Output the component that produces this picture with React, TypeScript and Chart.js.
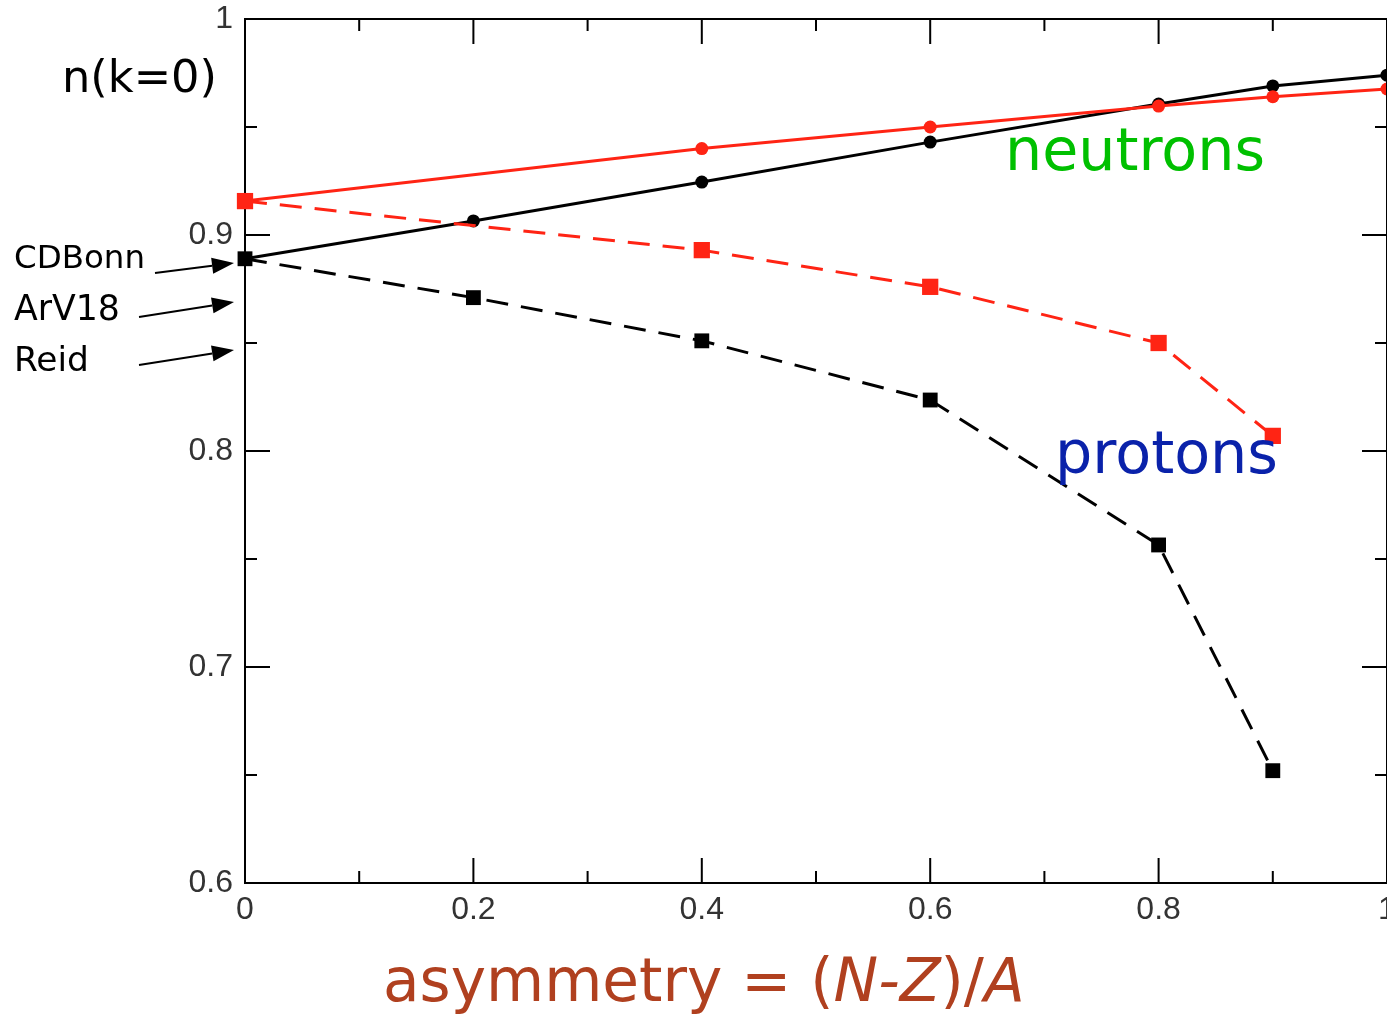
import React, { useEffect, useRef } from "react";
import { Chart, registerables } from "chart.js";

Chart.register(...registerables);

// Asymmetry values (x) and n(k=0) values (y)
const neutronBlackX = [0, 0.2, 0.4, 0.6, 0.8, 0.9, 1.0];
const neutronBlackY = [0.889, 0.9065, 0.9245, 0.943, 0.9606, 0.969, 0.974];
const neutronRedX = [0, 0.4, 0.6, 0.8, 0.9, 1.0];
const neutronRedY = [0.9157, 0.94, 0.95, 0.9597, 0.964, 0.9676];
const protonRedX = [0, 0.4, 0.6, 0.8, 0.9];
const protonRedY = [0.9157, 0.893, 0.876, 0.85, 0.807];
const protonBlackX = [0, 0.2, 0.4, 0.6, 0.8, 0.9];
const protonBlackY = [0.889, 0.871, 0.851, 0.8236, 0.7565, 0.652];

const xMajorTicks = [0, 0.2, 0.4, 0.6, 0.8, 1.0];
const xMinorTicks = [0.1, 0.3, 0.5, 0.7, 0.9];
const yMajorTicks = [0.6, 0.7, 0.8, 0.9, 1.0];
const yMinorTicks = [0.65, 0.75, 0.85, 0.95];

const modelLabels = ["CDBonn", "ArV18", "Reid"];

const RED = "#ff2414";
const BLACK = "#000000";
const FONT = "'DejaVu Sans', sans-serif";
const TICK_FONT = "'Liberation Sans', Arial, sans-serif";

const pts = (xs: number[], ys: number[]) => xs.map((x, i) => ({ x, y: ys[i] }));

function fitText(ctx: CanvasRenderingContext2D, text: string, width: number, style = "") {
  ctx.font = `${style} 100px ${FONT}`;
  const w = ctx.measureText(text).width;
  return (100 * width) / w;
}

function arrow(ctx: CanvasRenderingContext2D, x1: number, y1: number, x2: number, y2: number) {
  const ang = Math.atan2(y2 - y1, x2 - x1);
  const hl = 22, hw = 8;
  const bx = x2 - hl * Math.cos(ang), by = y2 - hl * Math.sin(ang);
  ctx.strokeStyle = "#000";
  ctx.lineWidth = 2;
  ctx.beginPath();
  ctx.moveTo(x1, y1);
  ctx.lineTo(bx, by);
  ctx.stroke();
  ctx.fillStyle = "#000";
  ctx.beginPath();
  ctx.moveTo(x2, y2);
  ctx.lineTo(bx + hw * Math.sin(ang), by - hw * Math.cos(ang));
  ctx.lineTo(bx - hw * Math.sin(ang), by + hw * Math.cos(ang));
  ctx.closePath();
  ctx.fill();
}

const decorPlugin = {
  id: "decor",
  afterDatasetsDraw(chart: any) {
    const ctx: CanvasRenderingContext2D = chart.ctx;
    const { left, right, top, bottom } = chart.chartArea;
    const xs = chart.scales.x, ys = chart.scales.y;
    ctx.save();
    ctx.strokeStyle = "#000";
    ctx.lineWidth = 2;
    ctx.beginPath();
    ctx.moveTo(left, top);
    ctx.lineTo(right, top);
    ctx.moveTo(right, top);
    ctx.lineTo(right, bottom);
    ctx.stroke();
    const tickX = (v: number, len: number) => {
      const px = xs.getPixelForValue(v);
      ctx.beginPath();
      ctx.moveTo(px, bottom);
      ctx.lineTo(px, bottom - len);
      ctx.moveTo(px, top);
      ctx.lineTo(px, top + len);
      ctx.stroke();
    };
    const tickY = (v: number, len: number) => {
      const py = ys.getPixelForValue(v);
      ctx.beginPath();
      ctx.moveTo(left, py);
      ctx.lineTo(left + len, py);
      ctx.moveTo(right, py);
      ctx.lineTo(right - len, py);
      ctx.stroke();
    };
    xMajorTicks.forEach((v) => tickX(v, 25));
    xMinorTicks.forEach((v) => tickX(v, 12));
    yMajorTicks.forEach((v) => tickY(v, 25));
    yMinorTicks.forEach((v) => tickY(v, 12));

    ctx.textBaseline = "middle";
    ctx.textAlign = "left";
    let s = fitText(ctx, "n(k=0)", 155);
    ctx.font = `${s}px ${FONT}`;
    ctx.fillStyle = "#000";
    ctx.fillText("n(k=0)", 62, 80);

    const labelY = [260, 311, 362];
    const labelW = [131, 106, 75];
    modelLabels.forEach((t, i) => {
      const sz = fitText(ctx, t, labelW[i]);
      ctx.font = `${sz}px ${FONT}`;
      ctx.fillStyle = "#000";
      ctx.fillText(t, 14, labelY[i]);
    });
    arrow(ctx, 155, 273, 234, 263);
    arrow(ctx, 139, 317, 234, 302);
    arrow(ctx, 139, 365, 234, 350);

    s = fitText(ctx, "neutrons", 260);
    ctx.font = `${s}px ${FONT}`;
    ctx.fillStyle = "#00c000";
    ctx.fillText("neutrons", 1005, 155);

    s = fitText(ctx, "protons", 223);
    ctx.font = `${s}px ${FONT}`;
    ctx.fillStyle = "#0a22aa";
    ctx.fillText("protons", 1055, 458);

    const parts: [string, string][] = [
      ["asymmetry = (", ""],
      ["N-Z", "italic"],
      [")/", ""],
      ["A", "italic"],
    ];
    let total = 0;
    parts.forEach(([t, st]) => {
      ctx.font = `${st} 100px ${FONT}`;
      total += ctx.measureText(t).width;
    });
    const sz = (100 * 642) / total;
    let x = 383;
    ctx.fillStyle = "#b0401f";
    parts.forEach(([t, st]) => {
      ctx.font = `${st} ${sz}px ${FONT}`;
      ctx.fillText(t, x, 985);
      x += ctx.measureText(t).width;
    });
    ctx.restore();
  },
};

export default function App() {
  const ref = useRef<HTMLCanvasElement | null>(null);
  useEffect(() => {
    if (!ref.current) return;
    const chart = new Chart(ref.current, {
      type: "line",
      data: {
        datasets: [
          {
            label: "protons (red)",
            data: pts(protonRedX, protonRedY),
            borderColor: RED,
            backgroundColor: RED,
            borderWidth: 3,
            borderDash: [22, 13],
            pointStyle: "rect",
            pointRadius: 11.5,
            pointBorderWidth: 0,
            clip: false,
          },
          {
            label: "neutrons (red)",
            data: pts(neutronRedX, neutronRedY),
            borderColor: RED,
            backgroundColor: RED,
            borderWidth: 3,
            pointStyle: "circle",
            pointRadius: 6.5,
            pointBorderWidth: 0,
            clip: false,
          },
          {
            label: "protons (black)",
            data: pts(protonBlackX, protonBlackY),
            borderColor: BLACK,
            backgroundColor: BLACK,
            borderWidth: 3,
            borderDash: [22, 13],
            pointStyle: "rect",
            pointRadius: 10.5,
            pointBorderWidth: 0,
            clip: false,
          },
          {
            label: "neutrons (black)",
            data: pts(neutronBlackX, neutronBlackY),
            borderColor: BLACK,
            backgroundColor: BLACK,
            borderWidth: 3,
            pointStyle: "circle",
            pointRadius: 6.5,
            pointBorderWidth: 0,
            clip: false,
          },
        ],
      },
      options: {
        responsive: false,
        animation: false,
        devicePixelRatio: 1,
        layout: { autoPadding: false, padding: { top: 19, left: 0, right: 0, bottom: 89 } },
        plugins: { legend: { display: false }, tooltip: { enabled: false } },
        elements: { line: { tension: 0 } },
        scales: {
          x: {
            type: "linear",
            min: 0,
            max: 1,
            grid: { display: false, drawTicks: false },
            border: { display: true, color: "#000", width: 2 },
            afterFit: (s: any) => {
              s.height = 50;
              s.paddingLeft = 0;
              s.paddingRight = 0;
            },
            ticks: {
              stepSize: 0.2,
              padding: 8,
              color: "#333",
              font: { family: TICK_FONT, size: 32 },
              maxRotation: 0,
              autoSkip: false,
              callback: (v: any) => String(Number(Number(v).toFixed(1))),
            },
          },
          y: {
            type: "linear",
            min: 0.6,
            max: 1,
            grid: { display: false, drawTicks: false },
            border: { display: true, color: "#000", width: 2 },
            afterFit: (s: any) => {
              s.width = 245;
              s.paddingTop = 0;
              s.paddingBottom = 0;
            },
            ticks: {
              stepSize: 0.1,
              padding: 12,
              color: "#333",
              font: { family: TICK_FONT, size: 32 },
              autoSkip: false,
              callback: (v: any) => String(Number(Number(v).toFixed(1))),
            },
          },
        },
      },
      plugins: [decorPlugin],
    } as any);
    return () => chart.destroy();
  }, []);
  return (
    <div style={{ position: "absolute", left: 0, top: 0, width: 1387, height: 1022, background: "#fff" }}>
      <canvas ref={ref} width={1387} height={1022} style={{ display: "block" }} />
    </div>
  );
}
